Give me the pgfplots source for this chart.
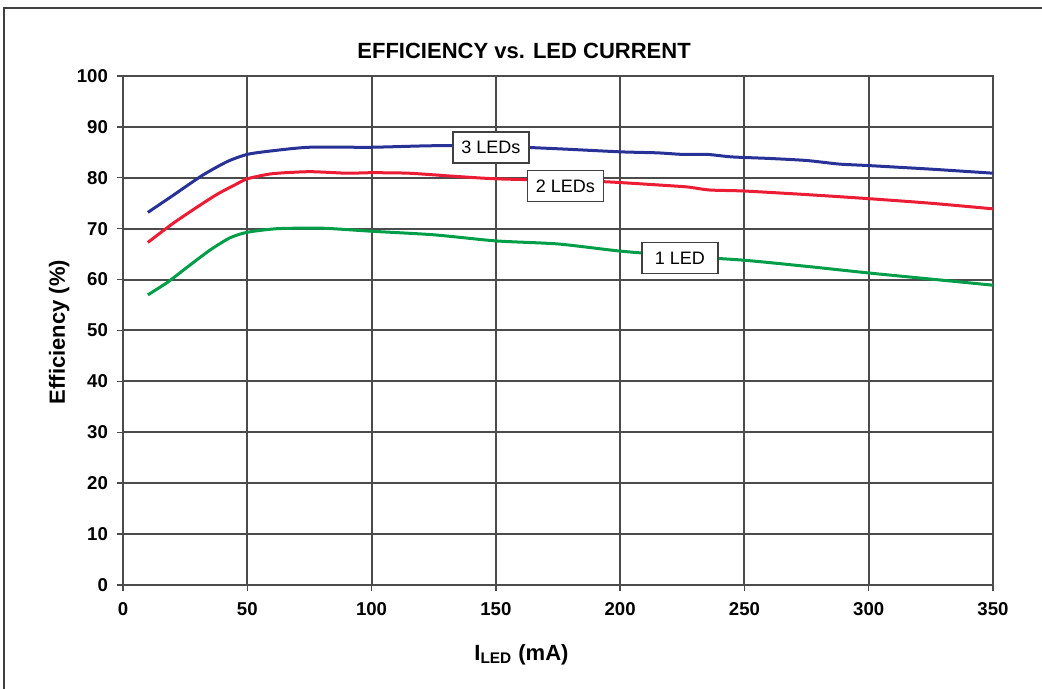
\documentclass[border=0pt]{standalone}
\usepackage{fontspec}
\setmainfont{Liberation Sans}
\usepackage{pgfplots}
\pgfplotsset{compat=1.18}

\definecolor{ledblue}{RGB}{40,50,150}
\definecolor{ledred}{RGB}{236,28,52}
\definecolor{ledgreen}{RGB}{0,158,72}
\definecolor{gridgray}{RGB}{75,75,75}

\begin{document}
\begin{tikzpicture}
% picture size: 1 px of the reference = 0.5pt
\path[use as bounding box] (-61.5pt,-52pt) rectangle (459.5pt,292.5pt);
\draw[line width=1pt, black!75] (-59.5pt,-60pt) -- (-59.5pt,288.5pt) -- (470pt,288.5pt);

\begin{axis}[
    at={(0pt,0pt)}, anchor=south west,
    scale only axis,
    width=435pt, height=254.5pt,
    xmin=0, xmax=350, ymin=0, ymax=100,
    xtick={0,50,...,350},
    ytick={0,10,...,100},
    grid=major,
    major grid style={gridgray, line width=1pt},
    axis line style={gridgray, line width=1.2pt},
    tick align=outside,
    tick pos=left,
    major tick length=3pt,
    tick style={gridgray, line width=0.7pt},
    /pgf/number format/assume math mode=true,
    ticklabel style={font=\fontsize{9.3}{10}\selectfont\bfseries},
    xticklabel style={yshift=-2pt},
    yticklabel style={xshift=-1pt},
    title={EFFICIENCY vs. LED CURRENT},
    title style={at={(axis description cs:0.461,1)}, anchor=base, yshift=2.5pt,
                 font=\fontsize{11}{13}\selectfont\bfseries},
    xlabel={I\textsubscript{LED} (mA)},
    xlabel style={at={(axis description cs:0.458,0)}, anchor=base, yshift=-37.5pt,
                  font=\fontsize{11}{13}\selectfont\bfseries},
    ylabel={Efficiency (\%)},
    ylabel style={at={(axis description cs:-0.0667,0.497)}, anchor=base,
                  font=\fontsize{11}{13}\selectfont\bfseries},
    clip=false,
]
% 3 LEDs
\addplot[ledblue, line width=1.5pt, smooth, tension=0.4] coordinates {
    (10,73.2) (20,76.5) (32,80.5) (42,83.2) (50,84.6) (60,85.3) (75,86.0)
    (100,86.0) (125,86.3) (150,86.2) (175,85.7) (200,85.1) (215,84.9)
    (225,84.6) (235,84.6) (245,84.1) (260,83.8) (275,83.4) (288,82.7)
    (300,82.4) (325,81.7) (350,80.9)
};
% 2 LEDs
\addplot[ledred, line width=1.5pt, smooth, tension=0.4] coordinates {
    (10,67.3) (20,71.0) (30,74.3) (38,76.8) (45,78.6) (50,79.8) (60,80.8)
    (75,81.2) (90,80.9) (100,81.0) (115,80.9) (133,80.3) (150,79.8)
    (175,79.5) (195,79.2) (215,78.6) (227,78.2) (236,77.6) (250,77.4)
    (275,76.7) (300,75.9) (325,75.0) (350,73.9)
};
% 1 LED
\addplot[ledgreen, line width=1.5pt, smooth, tension=0.4] coordinates {
    (10,57.0) (18,59.5) (26,62.5) (35,65.8) (43,68.2) (50,69.3) (62,70.0)
    (80,70.1) (100,69.5) (125,68.8) (150,67.6) (175,67.0) (200,65.6)
    (225,64.6) (250,63.8) (275,62.6) (300,61.3) (325,60.1) (350,58.9)
};

\tikzset{lbl/.style={draw=black!75, line width=0.75pt, fill=white,
    minimum width=38pt, minimum height=15.5pt, inner sep=1pt,
    font=\fontsize{9}{10}\selectfont}}
\node[lbl] at (axis cs:148,86.0) {3 LEDs};
\node[lbl] at (axis cs:178,78.4) {2 LEDs};
\node[lbl] at (axis cs:224,64.2) {1 LED};
\end{axis}
\end{tikzpicture}
\end{document}
